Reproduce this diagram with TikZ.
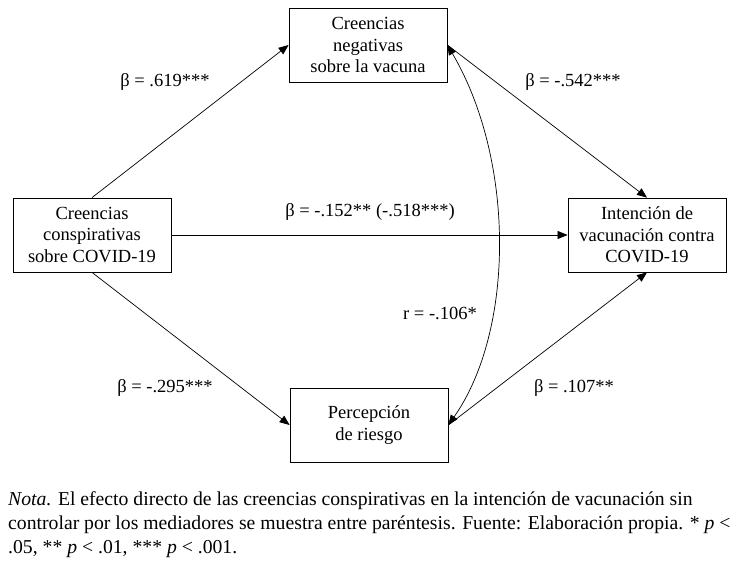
\documentclass[tikz,border=0pt]{standalone}
\usepackage{fontspec}
\setmainfont{Liberation Serif}
\usepackage{tikz}
\usetikzlibrary{arrows.meta, positioning}

\begin{document}
\begin{tikzpicture}[
  x=1pt, y=-1pt,
  box/.style={rectangle, draw, line width=0.8pt, minimum width=158pt, minimum height=74pt, inner sep=2pt, align=center, font=\fontsize{18.5}{21.5}\selectfont},
  arr/.style={-{Triangle[length=10pt, width=8pt]}, line width=0.7pt},
  coef/.style={font=\fontsize{18.5}{21.5}\selectfont, inner sep=0pt},
  >=Triangle
]
  \useasboundingbox (0,0) rectangle (736,561);

  % Variables
  \node[box] (cc) at (92, 235) {Creencias\\conspirativas\\sobre COVID-19};
  \node[box] (neg) at (368, 45) {Creencias\\negativas\\sobre la vacuna};
  \node[box] (per) at (369, 425) {Percepción\\de riesgo};
  \node[box] (int) at (647, 235) {Intención de\\vacunación contra\\COVID-19};

  % Paths
  \draw[arr] (cc.north) -- (neg.west);
  \draw[arr] (cc.east) -- (int.west);
  \draw[arr] (cc.south) -- (per.west);
  \draw[arr] (neg.east) -- (int.north);
  \draw[arr] (per.east) -- (int.south);

  % Covariance
  \draw[{Triangle[length=10pt, width=8pt]}-{Triangle[length=10pt, width=8pt]}, line width=0.7pt]
    (neg.east) .. controls (515,160) and (515,330) .. (per.east);

  % Coefficients
  \node[coef] (b1) at (165, 82) {β = .619***};
  \node[coef] (b2) at (573, 82) {β = -.542***};
  \node[coef] (b3) at (370, 212) {β = -.152** (-.518***)};
  \node[coef] (r1) at (440, 313) {r = -.106*};
  \node[coef] (b4) at (165, 388) {β = -.295***};
  \node[coef] (b5) at (574, 388) {β = .107**};

  % Note
  \node[anchor=base west, align=left, inner sep=0pt, font=\fontsize{19.7}{24}\selectfont] (nota) at (8, 553)
    {\textit{Nota.} El efecto directo de las creencias conspirativas en la intención de vacunación sin\\
     controlar por los mediadores se muestra entre paréntesis. Fuente: Elaboración propia. * \textit{p} <\\
     .05, ** \textit{p} < .01, *** \textit{p} < .001.};
\end{tikzpicture}
\end{document}
